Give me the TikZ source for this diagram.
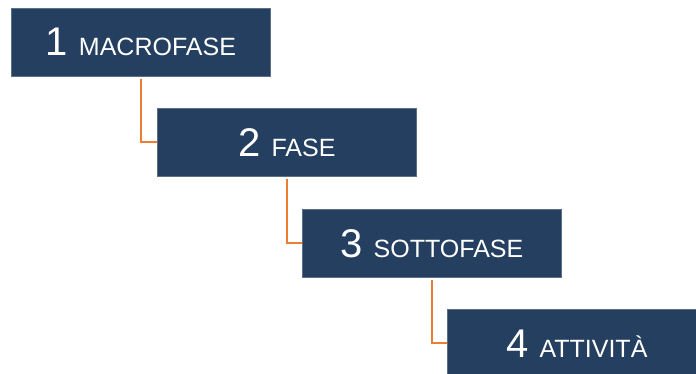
\documentclass[tikz,border=0pt]{standalone}
\usepackage{fontspec}
\setmainfont{Liberation Sans}
\usetikzlibrary{positioning}
\definecolor{lvl}{HTML}{243F60}
\definecolor{link}{HTML}{ED7D31}
\newcommand{\stagelabel}[2]{#1 {\fontsize{25}{30}\selectfont #2}}

\begin{document}
\begin{tikzpicture}[x=1pt, y=-1pt,
  stage/.style={fill=lvl, draw=lvl!75, line width=0.6pt, anchor=north west,
    minimum width=259pt, minimum height=68pt, inner sep=0pt,
    text=white, font=\fontsize{40}{44}\selectfont},
  joint/.style={draw=link, line width=2pt}]
\useasboundingbox (0,0) rectangle (696,374);
\clip (0,0) rectangle (696,374);
\node[stage] (macro) at (11,8) {\stagelabel{1}{MACROFASE}};
\node[stage] (fase) at (157,108) {\stagelabel{2}{FASE}};
\node[stage] (sotto) at (302,209) {\stagelabel{3}{SOTTOFASE}};
\node[stage] (att) at (447,309) {\stagelabel{4}{ATTIVITÀ}};
\draw[joint] ([yshift=-2pt]macro.south) |- (fase.west);
\draw[joint] ([yshift=-2pt]fase.south) |- (sotto.west);
\draw[joint] ([yshift=-2pt]sotto.south) |- (att.west);
\end{tikzpicture}
\end{document}
